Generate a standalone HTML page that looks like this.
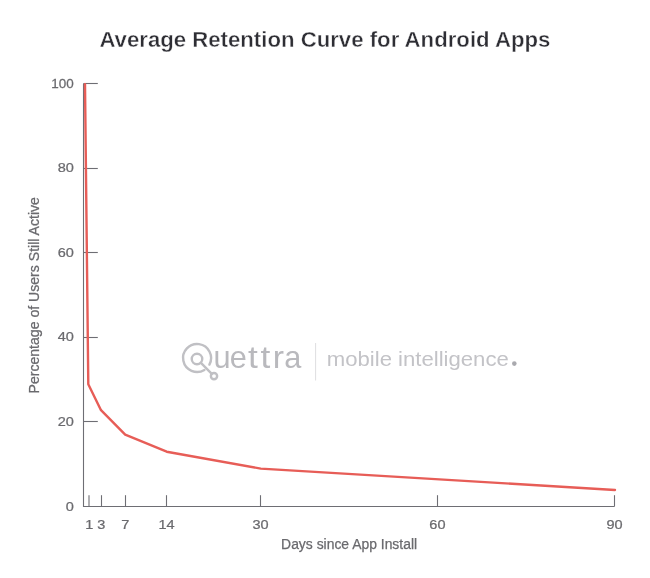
<!DOCTYPE html>
<html>
<head>
<meta charset="utf-8">
<style>
html,body{margin:0;padding:0;background:#fff;}
body{width:650px;height:578px;overflow:hidden;}
svg{display:block;will-change:transform;}
text{font-family:"Liberation Sans", sans-serif;}
</style>
</head>
<body>
<svg width="650" height="578" viewBox="0 0 650 578">
  <rect width="650" height="578" fill="#fff"/>
  <!-- title -->
  <text x="99.4" y="46.6" font-size="22.6" font-weight="bold" fill="#2e2e34" stroke="#fff" stroke-width="0.4" textLength="451" lengthAdjust="spacingAndGlyphs">Average Retention Curve for Android Apps</text>

  <!-- watermark -->
  
  <g font-size="30.7" fill="#b9b9bd">
    <text transform="translate(213.59,368.2) scale(1.000,1)">u</text>
    <text transform="translate(229.79,368.2) scale(1.000,1)">e</text>
    <text transform="translate(248.01,368.2) scale(1.150,1)">t</text>
    <text transform="translate(260.51,368.2) scale(1.150,1)">t</text>
    <text transform="translate(272.76,368.2) scale(1.100,1)">r</text>
    <text transform="translate(284.31,368.2) scale(1.000,1)">a</text>
  </g>
  <g fill="none" stroke="#c0c0c4" stroke-width="2.4" stroke-linecap="round">
    <path d="M 204.4 369.9 A 14 14 0 1 1 209.4 364.6"/>
    <circle cx="197" cy="359" r="5.25"/>
    <line x1="200.7" y1="362.7" x2="211.8" y2="373.9"/>
    <circle cx="214" cy="376.1" r="3.15"/>
  </g>
  <line x1="315.6" y1="343" x2="315.6" y2="380.5" stroke="#dedee0" stroke-width="1"/>
  <text x="326.8" y="365.5" font-size="20" fill="#c3c3c7" textLength="182" lengthAdjust="spacingAndGlyphs">mobile intelligence</text>
  <circle cx="514.3" cy="363.6" r="2.3" fill="#a9a9ae"/>

  <!-- axes -->
  <g stroke="#6e6e74" stroke-width="1.1" fill="none">
    <polyline points="83.5,83.5 83.5,506.5 614.5,506.5"/>
    <line x1="83.5" y1="83.5" x2="97.8" y2="83.5"/>
    <line x1="83.5" y1="168.5" x2="97.8" y2="168.5"/>
    <line x1="83.5" y1="252.5" x2="97.8" y2="252.5"/>
    <line x1="83.5" y1="337.5" x2="97.8" y2="337.5"/>
    <line x1="83.5" y1="421.5" x2="97.8" y2="421.5"/>
    <line x1="89" y1="495.2" x2="89" y2="506.5"/>
    <line x1="101.5" y1="495.2" x2="101.5" y2="506.5"/>
    <line x1="125.5" y1="495.2" x2="125.5" y2="506.5"/>
    <line x1="166.5" y1="495.2" x2="166.5" y2="506.5"/>
    <line x1="260.5" y1="495.2" x2="260.5" y2="506.5"/>
    <line x1="437.5" y1="495.2" x2="437.5" y2="506.5"/>
    <line x1="614.5" y1="495.2" x2="614.5" y2="506.5"/>
  </g>

  <!-- y labels -->
  <g font-size="13.2" fill="#6a6a6e" stroke="#6a6a6e" stroke-width="0.25">
    <text transform="translate(73.8,88.2) scale(1.02,1)" text-anchor="end">100</text>
    <text transform="translate(73.8,172.4) scale(1.1,1)" text-anchor="end">80</text>
    <text transform="translate(73.8,256.6) scale(1.1,1)" text-anchor="end">60</text>
    <text transform="translate(73.8,341.2) scale(1.1,1)" text-anchor="end">40</text>
    <text transform="translate(73.8,425.6) scale(1.1,1)" text-anchor="end">20</text>
    <text transform="translate(73.8,510.8) scale(1.1,1)" text-anchor="end">0</text>
  </g>
  <!-- x labels -->
  <g font-size="13.2" fill="#6a6a6e" stroke="#6a6a6e" stroke-width="0.25">
    <text transform="translate(89.3,529.4) scale(1.1,1)" text-anchor="middle">1</text>
    <text transform="translate(101.4,529.4) scale(1.1,1)" text-anchor="middle">3</text>
    <text transform="translate(125.4,529.4) scale(1.1,1)" text-anchor="middle">7</text>
    <text transform="translate(166.5,529.4) scale(1.1,1)" text-anchor="middle">14</text>
    <text transform="translate(260.6,529.4) scale(1.1,1)" text-anchor="middle">30</text>
    <text transform="translate(437.4,529.4) scale(1.1,1)" text-anchor="middle">60</text>
    <text transform="translate(614.6,529.4) scale(1.1,1)" text-anchor="middle">90</text>
  </g>
  <text x="281.1" y="549" font-size="13.8" fill="#6a6a6e" stroke="#6a6a6e" stroke-width="0.25" textLength="136" lengthAdjust="spacingAndGlyphs">Days since App Install</text>
  <text transform="translate(38.7,393.5) rotate(-90)" x="0" y="0" font-size="13.8" fill="#6a6a6e" stroke="#6a6a6e" stroke-width="0.25" textLength="196.4" lengthAdjust="spacingAndGlyphs">Percentage of Users Still Active</text>

  <!-- curve -->
  <polyline points="85,84.2 88.3,384.2 101,410.2 125.2,434.7 166.7,451.7 260.8,468.6 615,490" fill="none" stroke="#e75d57" stroke-width="2.4" stroke-linejoin="round" stroke-linecap="round"/>
</svg>
</body>
</html>
